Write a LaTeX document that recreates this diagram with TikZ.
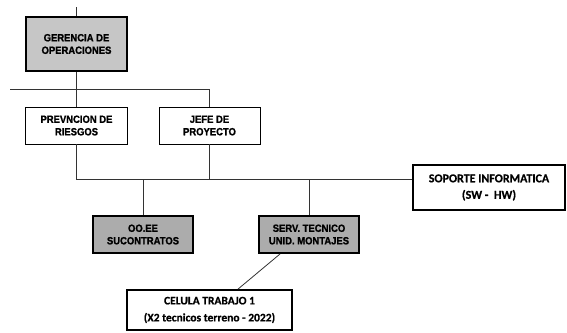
\documentclass[tikz,border=0pt]{standalone}
\usepackage{fontspec}
\setmainfont{Liberation Sans}
\newfontfamily\narrowfont[FakeStretch=0.9, FakeBold=1.2]{Liberation Sans}
\newfontfamily\calfont[FakeBold=0.6]{Carlito}
\usepackage{tikz}

\tikzset{
  cargo/.style={draw=black, line width=0.9pt, fill=white, align=center,
    inner sep=0pt, font=\narrowfont\bfseries\fontsize{10.5}{12.5}\selectfont},
  cargogris/.style={cargo, line width=2pt, fill=gray!45},
  cargoosc/.style={cargo, line width=2pt, fill=gray!65},
  cargocal/.style={cargo, line width=1.8pt, font=\calfont\bfseries\fontsize{11.5}{17}\selectfont},
  linea/.style={draw=black!80, line width=0.8pt}
}

\begin{document}
\begin{tikzpicture}[x=1pt, y=-1pt]
        \useasboundingbox (0,0) rectangle (567,332);

        % Gerencia
        \node[cargogris, minimum width=101pt, minimum height=54pt] (ger) at (76.5,44) {GERENCIA DE\\OPERACIONES};
        \coordinate (arriba) at (76.5,7);

        % Primer nivel
        \node[cargo, minimum width=102pt, minimum height=37pt] (prev) at (76.5,125.5) {PREVNCION DE\\RIESGOS};
        \node[cargo, minimum width=101pt, minimum height=37pt] (jefe) at (209.5,125.5) {JEFE DE\\PROYECTO};

        % Segundo nivel
        \node[cargocal, minimum width=152pt, minimum height=45pt, font=\calfont\bfseries\fontsize{12}{16.5}\selectfont] (sop) at (489,187.5) {SOPORTE INFORMATICA\\(SW -\ \ HW)};
        \node[cargoosc, minimum width=100pt, minimum height=37pt] (ooee) at (143,234.5) {OO.EE\\SUCONTRATOS};
        \node[cargoosc, minimum width=100pt, minimum height=37pt] (serv) at (309,234.5) {SERV. TECNICO\\UNID. MONTAJES};

        % Celula
        \node[cargocal, minimum width=165pt, minimum height=40pt] (cel) at (209.5,310) {CELULA TRABAJO 1\\(X2 tecnicos terreno - 2022)};

        % Barras horizontales
        \coordinate (b1) at (10,89);
        \coordinate (b2) at (76.5,179);

        % Conectores
        \draw[linea] (arriba) -- (ger.north);
        \draw[linea] (ger.south) -- (prev.north);
        \draw[linea] (b1) -- (b1 -| jefe.north) -- (jefe.north);
        \draw[linea] (prev.south) -- (b2) -- (b2 -| sop.west);
        \draw[linea] (jefe.south) -- (jefe.south |- b2);
        \draw[linea] (ooee.north) -- (ooee.north |- b2);
        \draw[linea] (serv.north) -- (serv.north |- b2);
        \draw[linea] ([xshift=-29pt]serv.south) -- ([xshift=28.5pt]cel.north);
    \end{tikzpicture}
\end{document}
